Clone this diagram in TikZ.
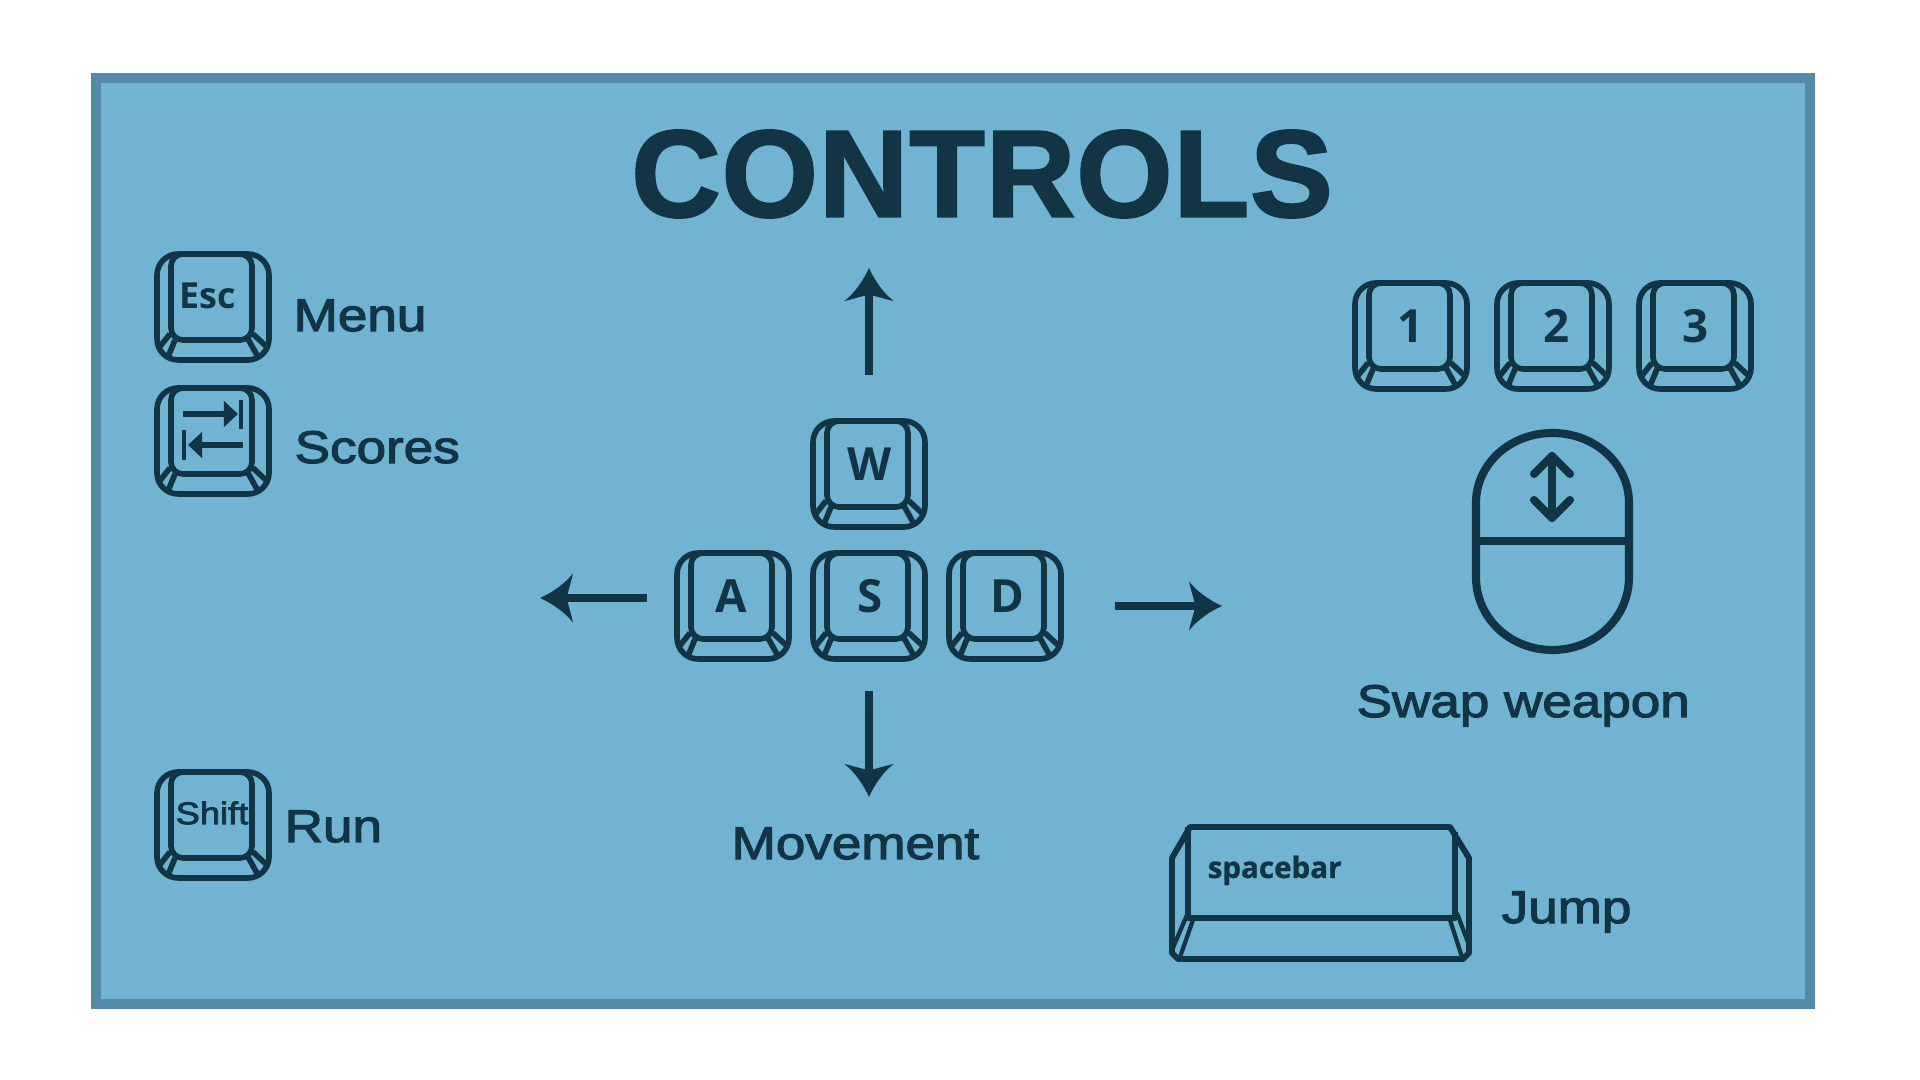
\documentclass[tikz,border=0pt]{standalone}
\usepackage{fontspec}
\setmainfont{Liberation Sans}
\newfontfamily\titleFont[BoldFeatures={FakeBold=1.8,LetterSpace=0.8}]{Liberation Sans}
\newfontfamily\labelFont[FakeBold=2.6,FakeStretch=1.16]{Liberation Sans}
\newfontfamily\capFont{Open Sans}
\newfontfamily\barFont[BoldFeatures={FakeBold=1}]{Open Sans}
\usetikzlibrary{arrows.meta}

% Barbed head of the movement arrows
\pgfdeclarearrow{
    name=Barb,
    setup code={
        \pgfarrowssettipend{0pt}
        \pgfarrowssetlineend{-7pt}
        \pgfarrowssetbackend{-9.4pt}
        \pgfarrowssetvisualbackend{-7.6pt}
        \pgfarrowshullpoint{0pt}{0pt}
        \pgfarrowshullpoint{-9.4pt}{7pt}
        \pgfarrowshullpoint{-9.4pt}{-7pt}
    },
    drawing code={
        \pgfpathmoveto{\pgfpoint{0pt}{0pt}}
        \pgfpathcurveto{\pgfpoint{-3.8pt}{1.7pt}}{\pgfpoint{-7.3pt}{4.3pt}}{\pgfpoint{-9.4pt}{7pt}}
        \pgfpathcurveto{\pgfpoint{-8.8pt}{4.4pt}}{\pgfpoint{-8pt}{2pt}}{\pgfpoint{-7.6pt}{0pt}}
        \pgfpathcurveto{\pgfpoint{-8pt}{-2pt}}{\pgfpoint{-8.8pt}{-4.4pt}}{\pgfpoint{-9.4pt}{-7pt}}
        \pgfpathcurveto{\pgfpoint{-7.3pt}{-4.3pt}}{\pgfpoint{-3.8pt}{-1.7pt}}{\pgfpoint{0pt}{0pt}}
        \pgfpathclose
        \pgfusepathqfill
    }
}

\begin{document}
\begin{tikzpicture}[x=0.01cm, y=-0.01cm]
    % Define colours
    \definecolor{frameColour}{HTML}{538BA7}
    \definecolor{panelColour}{HTML}{70B4D2}
    \definecolor{inkColour}{HTML}{133445}

    \tikzset{
        keyLine/.style={draw=inkColour, line width=1.6pt, line join=round},
        moveArrow/.style={draw=inkColour, line width=2.27pt, -{Barb}},
        titleText/.style={text=inkColour, inner sep=0pt, font=\titleFont\bfseries\fontsize{35.2}{40}\selectfont},
        labelText/.style={text=inkColour, inner sep=0pt, anchor=base west, font=\labelFont\fontsize{13}{16}\selectfont},
        capText/.style={text=inkColour, inner sep=0pt, font=\capFont\bfseries\fontsize{13}{16}\selectfont}
    }

    % Fix the page size
    \useasboundingbox (0,0) rectangle (1920,1080);

    % Draw the panel
    \draw[draw=frameColour, fill=panelColour, line width=2.84pt] (96,78.5) rectangle (1810,1004);

    % Draw the title
    \node[titleText] (title) at (982,174) {CONTROLS};

    % Draw the small keys
    \foreach \name/\x/\y/\letter/\shiftX in {esc/213/307//0, tab/213/441//0, shift/213/825//0,
        w/869/474/W/1, a/733/606/A/-1.5, s/869/606/S/1, d/1005/606/D/2,
        one/1411/336/1/-0.5, two/1553/336/2/3.5, three/1695/336/3/1}
    {
        \begin{scope}[shift={(\x,\y)}]
            \draw[keyLine, rounded corners=6pt] (-56,-53) rectangle (56,53);
            \draw[keyLine, rounded corners=3.4pt] (-42,-53) rectangle (39,33);
            \draw[keyLine] (-43,27) -- (-55,42);
            \draw[keyLine] (-38,33) -- (-45,50);
            \draw[keyLine] (35,32) -- (45,50);
            \draw[keyLine] (40,27) -- (55,41);
            \node[capText] (key\name) at (\shiftX,-10) {\letter};
        \end{scope}
    }

    % Text on the special keys
    \node[capText, font=\capFont\bfseries\fontsize{10.2}{12}\selectfont] (escText) at (208,296) {Esc};
    \node[text=inkColour, inner sep=0pt, font=\labelFont\fontsize{8.9}{12}\selectfont] (shiftText) at (212,813) {Shift};

    % Draw the tab icon
    \coordinate (tabTopStart) at (183,414);
    \coordinate (tabTopEnd) at (238,414);
    \coordinate (tabLowStart) at (243,445);
    \coordinate (tabLowEnd) at (188,445);
    \draw[draw=inkColour, line width=1.9pt, -{Triangle[length=4pt, width=7.2pt]}] (tabTopStart) -- (tabTopEnd);
    \draw[draw=inkColour, line width=1.9pt, -{Triangle[length=4pt, width=7.2pt]}] (tabLowStart) -- (tabLowEnd);
    \draw[draw=inkColour, line width=1pt] (241,400) -- (241,429);
    \draw[draw=inkColour, line width=1pt] (184,430) -- (184,460);

    % Draw the movement arrows
    \coordinate (upTail) at (869,375);
    \coordinate (upTip) at (869,268);
    \coordinate (downTail) at (869,691);
    \coordinate (downTip) at (869,797);
    \coordinate (leftTail) at (647,598);
    \coordinate (leftTip) at (540,598);
    \coordinate (rightTail) at (1115,606);
    \coordinate (rightTip) at (1222,606);
    \draw[moveArrow] (upTail) -- (upTip);
    \draw[moveArrow] (downTail) -- (downTip);
    \draw[moveArrow] (leftTail) -- (leftTip);
    \draw[moveArrow] (rightTail) -- (rightTip);

    % Draw the mouse
    \draw[draw=inkColour, line width=2.3pt] (1476,503) .. controls (1476,464) and (1510,433) .. (1552.5,433)
        .. controls (1595,433) and (1629,464) .. (1629,503) -- (1629,577)
        .. controls (1629,618) and (1595,650) .. (1552.5,650)
        .. controls (1510,650) and (1476,618) .. (1476,577) -- cycle;
    \draw[draw=inkColour, line width=2.3pt] (1476,541) -- (1629,541);
    \draw[draw=inkColour, line width=2.3pt, line cap=round, line join=round] (1552,456) -- (1552,518);
    \draw[draw=inkColour, line width=2.3pt, line cap=round, line join=round] (1534,474) -- (1552,456) -- (1570,474);
    \draw[draw=inkColour, line width=2.3pt, line cap=round, line join=round] (1534,500) -- (1552,518) -- (1570,500);

    % Draw the spacebar
    \draw[keyLine, line width=1.7pt] (1172,858) -- (1190,827) -- (1450,827) -- (1469,858) -- (1469,953)
        -- (1463,959) -- (1178,959) -- (1172,953) -- cycle;
    \draw[keyLine, line width=1.7pt] (1188,827) -- (1188,918) -- (1455,918) -- (1455,832);
    \draw[keyLine, line width=1.2pt] (1187,915) -- (1172,950);
    \draw[keyLine, line width=1.2pt] (1193,920) -- (1180,957);
    \draw[keyLine, line width=1.2pt] (1450,920) -- (1462,957);
    \draw[keyLine, line width=1.2pt] (1457,913) -- (1470,948);
    \node[text=inkColour, inner sep=0pt, anchor=base west, font=\barFont\bfseries\fontsize{8.4}{10}\selectfont] (spaceText) at (1207,878) {spacebar};

    % Label the controls
    \node[labelText] (menuLabel) at (293,331) {Menu};
    \node[labelText] (scoresLabel) at (294,463) {Scores};
    \node[labelText] (runLabel) at (284,842) {Run};
    \node[labelText] (moveLabel) at (731,859) {Movement};
    \node[labelText] (swapLabel) at (1356,717) {Swap weapon};
    \node[labelText] (jumpLabel) at (1501,923) {Jump};

\end{tikzpicture}
\end{document}
